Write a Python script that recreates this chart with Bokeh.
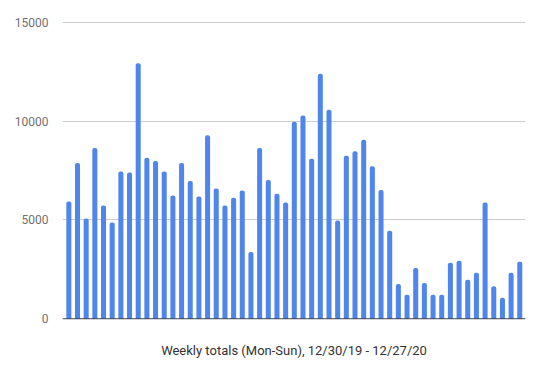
from bokeh.plotting import figure
from bokeh.models import Range1d, FixedTicker, Span, ColumnDataSource
from bokeh.embed import file_html
from bokeh.resources import INLINE

# Weekly totals, 53 weeks
weeks = list(range(53))
totals = [5930, 7880, 5075, 8640, 5730, 4870, 7445, 7395, 12925,
          8150, 7985, 7445, 6235, 7880, 6975, 6185, 9280, 6590,
          5730, 6120, 6490, 3380, 8640, 7025, 6320, 5880, 9965,
          10285, 8100, 12385, 10570, 4975, 8250, 8470, 9060, 7715,
          6520, 4455, 1765, 1225, 2570, 1815, 1225, 1225, 2840,
          2940, 1985, 2335, 5880, 1645, 1075, 2335, 2890]
y_ticks = [0, 5000, 10000, 15000]
x_label = "Weekly totals (Mon-Sun), 12/30/19 - 12/27/20"

src = ColumnDataSource(dict(x=weeks, top=totals))

p = figure(width=540, height=372, output_backend="svg", toolbar_location=None,
           x_range=Range1d(-0.73, 52.66), y_range=Range1d(-30, 15030),
           min_border_left=62, min_border_right=15, min_border_top=21,
           min_border_bottom=53)
p.outline_line_color = None
p.background_fill_color = "white"
p.border_fill_color = "white"

p.vbar(x="x", top="top", bottom=0, width=0.58, source=src,
       fill_color="#5086ec", line_color=None, border_radius=[2, 2, 0, 0])

p.add_layout(Span(location=0, dimension="width", line_color="#333333", line_width=1))

p.yaxis.ticker = FixedTicker(ticks=y_ticks)
p.yaxis.axis_line_color = None
p.yaxis.major_tick_line_color = None
p.yaxis.minor_tick_line_color = None
p.yaxis.major_label_standoff = 8
p.yaxis.major_label_text_font = "Roboto"
p.yaxis.major_label_text_font_size = "12px"
p.yaxis.major_label_text_color = "#707070"

p.xaxis.ticker = FixedTicker(ticks=[])
p.xaxis.axis_line_color = None
p.xaxis.major_tick_line_color = None
p.xaxis.minor_tick_line_color = None
p.xaxis.axis_label = x_label
p.xaxis.axis_label_standoff = 23
p.xaxis.axis_label_text_font = "Roboto"
p.xaxis.axis_label_text_font_style = "normal"
p.xaxis.axis_label_text_font_size = "13px"
p.xaxis.axis_label_text_color = "#333333"

p.xgrid.grid_line_color = None
p.ygrid.ticker = FixedTicker(ticks=y_ticks)
p.ygrid.grid_line_color = "#cccccc"

open("out.html", "w").write(file_html(p, INLINE))
